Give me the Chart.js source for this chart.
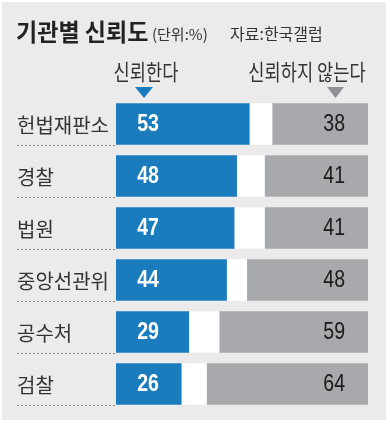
<!DOCTYPE html>
<html>
<head>
<meta charset="utf-8">
<script src="https://cdn.jsdelivr.net/npm/chart.js@4/dist/chart.umd.min.js"></script>
<style>
  html, body { margin: 0; padding: 0; background: #ffffff; }
  #wrap { width: 390px; height: 424px; position: relative; }
</style>
</head>
<body>
<div id="wrap"><canvas id="chart" width="390" height="424"></canvas></div>
<script>
// Data
const institutions = ['헌법재판소', '경찰', '법원', '중앙선관위', '공수처', '검찰'];
const trust = [53, 48, 47, 44, 29, 26];
const noAnswer = [9, 11, 12, 8, 12, 10];
const distrust = [38, 41, 41, 48, 59, 64];

const titleText = '기관별 신뢰도';
const unitText = '(단위:%)';
const sourceText = '자료:한국갤럽';
const trustLabel = '신뢰한다';
const distrustLabel = '신뢰하지 않는다';

const BLUE = '#1a7bbd';
const GREY = '#a7a9ac';
const PANEL = '#ebebeb';
const KR = '"Noto Sans CJK KR", "Noto Sans", sans-serif';
const NUM = '"Liberation Sans", Arial, sans-serif';

// draw text squeezed horizontally (the original uses condensed faces)
function squeezed(ctx, text, x, y, font, sx, align, color) {
    ctx.save();
    ctx.font = font;
    ctx.fillStyle = color;
    ctx.textAlign = align;
    ctx.textBaseline = 'middle';
    ctx.translate(x, y);
    ctx.scale(sx, 1);
    ctx.fillText(text, 0, 0);
    ctx.restore();
}

// background panel, titles, headers
const backdrop = {
    id: 'backdrop',
    beforeDraw(chart) {
        const ctx = chart.ctx;
        ctx.save();
        ctx.fillStyle = '#ffffff';
        ctx.fillRect(0, 0, chart.width, chart.height);
        ctx.fillStyle = PANEL;
        ctx.fillRect(2, 2, 384, 418);

        squeezed(ctx, titleText, 16, 32, 'bold 24px ' + KR, 0.96, 'left', '#222222');
        squeezed(ctx, unitText, 152, 34, '15px ' + KR, 1, 'left', '#333333');
        squeezed(ctx, sourceText, 230, 34, '16px ' + KR, 1, 'left', '#333333');

        // column headers
        squeezed(ctx, trustLabel, 146, 72, '22px ' + KR, 0.8, 'center', '#333333');
        squeezed(ctx, distrustLabel, 307, 72, '22px ' + KR, 0.8, 'center', '#333333');

        ctx.fillStyle = BLUE;
        ctx.beginPath();
        ctx.moveTo(135, 87); ctx.lineTo(153, 87); ctx.lineTo(144, 98);
        ctx.closePath(); ctx.fill();
        ctx.fillStyle = '#8e9093';
        ctx.beginPath();
        ctx.moveTo(327, 87); ctx.lineTo(344, 87); ctx.lineTo(335.5, 98);
        ctx.closePath(); ctx.fill();
        ctx.restore();
    }
};

// category names, dotted separators and value labels
const rowLabels = {
    id: 'rowLabels',
    afterDatasetsDraw(chart) {
        const ctx = chart.ctx;
        const yScale = chart.scales.y;
        const trustMeta = chart.getDatasetMeta(0);
        const distMeta = chart.getDatasetMeta(2);
        institutions.forEach((name, i) => {
            const y = yScale.getPixelForValue(i);
            const bar = trustMeta.data[i];
            const half = bar.height / 2;

            squeezed(ctx, name, 17, y + 1, '20px ' + KR, 1, 'left', '#333333');

            ctx.save();
            ctx.strokeStyle = '#8a8a8a';
            ctx.lineWidth = 1;
            ctx.setLineDash([2, 2]);
            ctx.beginPath();
            ctx.moveTo(17, Math.round(y + half) + 0.5);
            ctx.lineTo(bar.base, Math.round(y + half) + 0.5);
            ctx.stroke();
            ctx.restore();

            squeezed(ctx, String(trust[i]), bar.base + 32, y + 1, 'bold 23px ' + NUM, 0.85, 'center', '#ffffff');

            const dbar = distMeta.data[i];
            squeezed(ctx, String(distrust[i]), dbar.x - 23, y + 1, '23px ' + NUM, 0.85, 'right', '#1a1a1a');
        });
    }
};

new Chart(document.getElementById('chart').getContext('2d'), {
    type: 'bar',
    data: {
        labels: institutions,
        datasets: [{
            label: trustLabel,
            data: trust,
            backgroundColor: BLUE
        }, {
            label: '무응답',
            data: noAnswer,
            backgroundColor: '#ffffff'
        }, {
            label: distrustLabel,
            data: distrust,
            backgroundColor: GREY
        }]
    },
    options: {
        indexAxis: 'y',
        responsive: false,
        animation: false,
        layout: {
            padding: { left: 116, right: 22, top: 98, bottom: 14 }
        },
        datasets: {
            bar: {
                barPercentage: 0.8,
                categoryPercentage: 1,
                borderWidth: 0
            }
        },
        scales: {
            x: { stacked: true, min: 0, max: 100, display: false },
            y: { stacked: true, display: false }
        },
        plugins: {
            legend: { display: false },
            tooltip: { enabled: false }
        }
    },
    plugins: [backdrop, rowLabels]
});
</script>
</body>
</html>
